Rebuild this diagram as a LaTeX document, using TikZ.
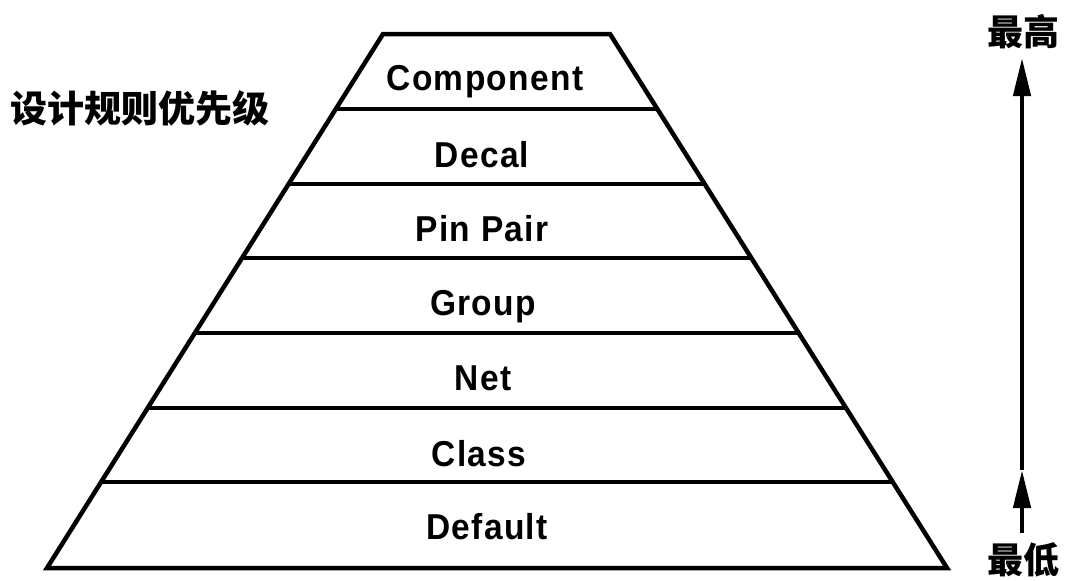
\documentclass[tikz,border=0pt]{standalone}
\usepackage{fontspec}
\newfontfamily\labfont{Liberation Sans}[LetterSpace=4]
\newfontfamily\cjk{Noto Sans CJK SC}
\usetikzlibrary{calc,arrows.meta}
\tikzset{
  edge/.style={line width=4.5pt,line join=miter},
  level/.style={font=\labfont\bfseries\fontsize{36}{36}\selectfont,inner sep=0pt,anchor=base,xscale=0.93},
  cjklab/.style={font=\cjk\bfseries\fontsize{37}{37}\selectfont,inner sep=0pt},
  prio/.style={line width=4.5pt,-{Triangle[length=38pt,width=17pt]}}
}
\begin{document}
\begin{tikzpicture}[x=1pt,y=-1pt]
\useasboundingbox (0,0) rectangle (1066,581);
\coordinate (tl) at (383,34);
\coordinate (tr) at (610,34);
\coordinate (bl) at (47,568);
\coordinate (br) at (947,568);
\draw[edge] (tl) -- (tr) -- (br) -- (bl) -- cycle;
\foreach \i/\yy in {1/109,2/184,3/258,4/333,5/408,6/482}{
  \pgfmathsetmacro{\t}{(\yy-34)/534}
  \coordinate (l\i) at ($(tl)!\t!(bl)$);
  \coordinate (r\i) at ($(tr)!\t!(br)$);
  \draw[edge] (l\i) -- (r\i);
}
\node[level] (comp) at (485,90) {Component};
\node[level] (decal) at (482,167) {Decal};
\node[level] (pin) at (482,241) {Pin Pair};
\node[level] (group) at (483,315) {Group};
\node[level] (net) at (483,390) {Net};
\node[level] (class) at (479,466) {Class};
\node[level] (def) at (487,539) {Default};
\node[cjklab] (title) at (140,108) {设计规则优先级};
\node[cjklab,font=\cjk\bfseries\fontsize{36}{36}\selectfont] (hi) at (1023,32) {最高};
\node[cjklab,font=\cjk\bfseries\fontsize{36}{36}\selectfont] (lo) at (1023,560) {最低};
\coordinate (ab) at (1022,533);
\coordinate (am) at (1022,470);
\coordinate (at) at (1022,58);
\draw[prio] (ab) -- (am);
\draw[prio] (am) -- (at);
\end{tikzpicture}
\end{document}
